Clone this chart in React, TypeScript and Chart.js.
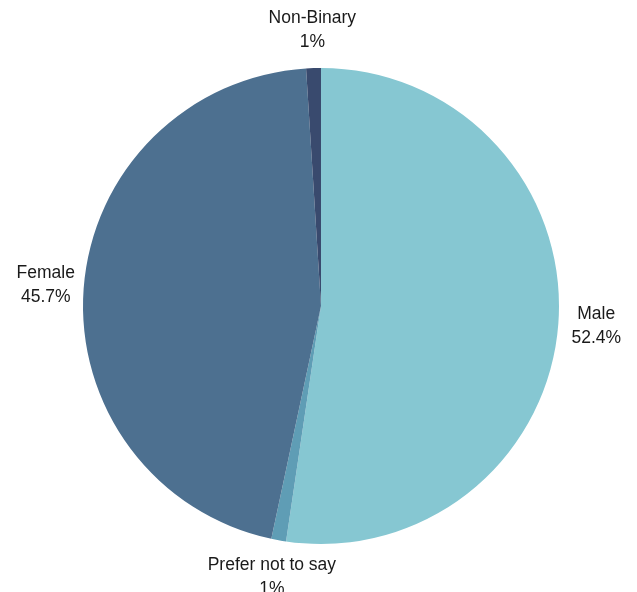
import React, { useEffect, useRef } from "react";
import { Chart, registerables } from "chart.js";

Chart.register(...registerables);

const categories = ["Male", "Prefer not to say", "Female", "Non-Binary"];
const values = [52.4, 1, 45.7, 1];
const valueLabels = ["52.4%", "1%", "45.7%", "1%"];
const colors = ["#86c7d2", "#5f9db5", "#4d7090", "#394a6e"];

const outsideLabels = {
  id: "outsideLabels",
  afterDatasetsDraw(chart: any) {
    const ctx = chart.ctx;
    const meta = chart.getDatasetMeta(0);
    ctx.save();
    ctx.font = '17.5px "Liberation Sans", Arial, sans-serif';
    ctx.fillStyle = "#1a1a1a";
    ctx.textAlign = "center";
    ctx.textBaseline = "middle";
    meta.data.forEach((arc: any, i: number) => {
      const p = arc.getProps(["x", "y", "startAngle", "endAngle", "outerRadius"], true);
      const mid = (p.startAngle + p.endAngle) / 2;
      const d = p.outerRadius + 38;
      const cx = p.x + Math.cos(mid) * d;
      const cy = p.y + Math.sin(mid) * d;
      ctx.fillText(categories[i], cx, cy - 12);
      ctx.fillText(valueLabels[i], cx, cy + 12);
    });
    ctx.restore();
  },
};

export default function App() {
  const ref = useRef<HTMLCanvasElement>(null);
  useEffect(() => {
    if (!ref.current) return;
    const chart = new Chart(ref.current, {
      type: "pie",
      data: {
        labels: categories,
        datasets: [
          {
            data: values,
            backgroundColor: colors,
            borderWidth: 0,
          },
        ],
      },
      options: {
        responsive: false,
        animation: false,
        layout: { padding: { top: 68, bottom: 48, left: 81, right: 76 } },
        plugins: {
          legend: { display: false },
          tooltip: { enabled: false },
        },
      },
      plugins: [outsideLabels],
    });
    return () => chart.destroy();
  }, []);
  return (
    <div style={{ position: "fixed", left: 0, top: 0, width: 637, height: 592, background: "#fff" }}>
      <canvas ref={ref} width={637} height={592} style={{ width: 637, height: 592, display: "block" }} />
    </div>
  );
}
